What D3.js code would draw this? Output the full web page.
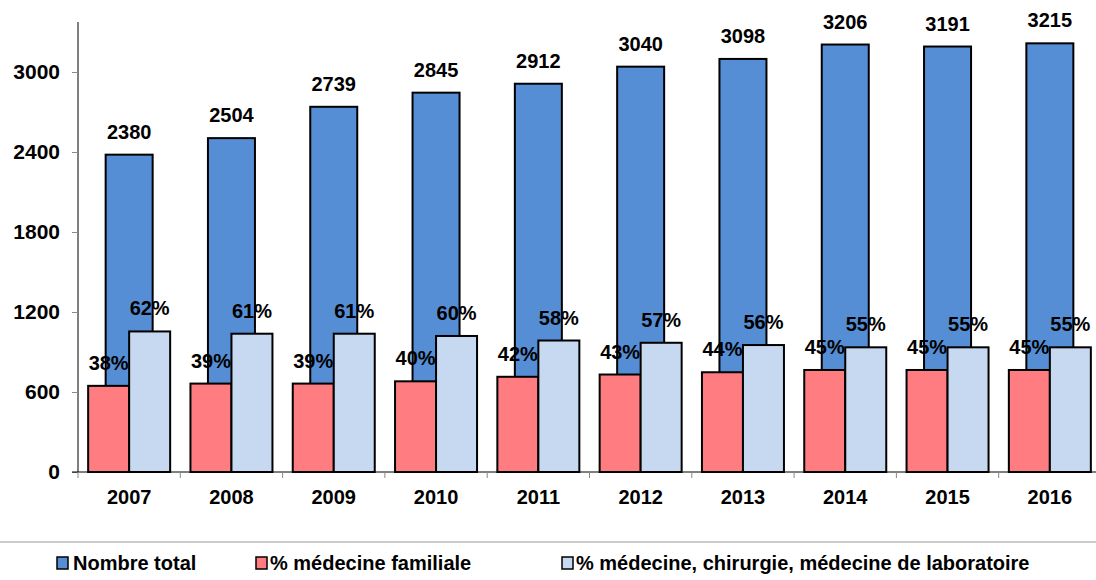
<!DOCTYPE html>
<html><head><meta charset="utf-8">
<script src="https://cdn.jsdelivr.net/npm/d3@7"></script>
<style>
html,body{margin:0;padding:0;background:#fff;}
text{font-family:"Liberation Sans",Arial,sans-serif;font-weight:bold;fill:#000;}
</style></head>
<body><svg id="c" width="1096" height="580"></svg>
<script>
const years = ["2007","2008","2009","2010","2011","2012","2013","2014","2015","2016"];
const totals = [2380,2504,2739,2845,2912,3040,3098,3206,3191,3215];
const pctFamily = [38,39,39,40,42,43,44,45,45,45];
const pctOther = [62,61,61,60,58,57,56,55,55,55];
const yTicks = [0,600,1200,1800,2400,3000];
const legendLabels = ["Nombre total","% médecine familiale","% médecine, chirurgie, médecine de laboratoire"];
const colors = ["#558ED5","#FF7C80","#C6D9F1"];

(function(){
const svg = d3.select("#c");
const mLeft = 78, mTop = 22, mBottom = 472, plotW = 1023;
const x = d3.scaleBand().domain(years).range([mLeft, mLeft + plotW]).paddingInner(0).paddingOuter(0);
const y = d3.scaleLinear().domain([0, 3375]).range([mBottom, mTop]);
const y2 = d3.scaleLinear().domain([0, 198.5]).range([mBottom, mTop]);
const bw = 47, sw = 41, fs = 20;
const FF = '"Liberation Sans",Arial,sans-serif';

svg.append("g").selectAll("rect").data(years).join("rect")
  .attr("x", d => x(d) + x.bandwidth()/2 - bw/2)
  .attr("y", (d,i) => y(totals[i]))
  .attr("width", bw)
  .attr("height", (d,i) => y(0) - y(totals[i]))
  .attr("fill", colors[0]).attr("stroke", "#000").attr("stroke-width", 2);

svg.append("g").selectAll("text").data(years).join("text")
  .attr("x", d => x(d) + x.bandwidth()/2)
  .attr("y", (d,i) => y(totals[i]) - 16)
  .attr("text-anchor", "middle").attr("font-size", fs)
  .text((d,i) => totals[i]);

const c = x.bandwidth()/2;
svg.append("g").selectAll("rect").data(years).join("rect")
  .attr("x", d => x(d) + c - sw)
  .attr("y", (d,i) => y2(pctFamily[i]))
  .attr("width", sw)
  .attr("height", (d,i) => y2(0) - y2(pctFamily[i]))
  .attr("fill", colors[1]).attr("stroke", "#000").attr("stroke-width", 2);
svg.append("g").selectAll("rect").data(years).join("rect")
  .attr("x", d => x(d) + c)
  .attr("y", (d,i) => y2(pctOther[i]))
  .attr("width", sw)
  .attr("height", (d,i) => y2(0) - y2(pctOther[i]))
  .attr("fill", colors[2]).attr("stroke", "#000").attr("stroke-width", 2);

svg.append("g").selectAll("text").data(years).join("text")
  .attr("x", d => x(d) + c - sw/2)
  .attr("y", (d,i) => y2(pctFamily[i]) - 16)
  .attr("text-anchor", "middle").attr("font-size", fs)
  .text((d,i) => pctFamily[i] + "%");
svg.append("g").selectAll("text").data(years).join("text")
  .attr("x", d => x(d) + c + sw/2)
  .attr("y", (d,i) => y2(pctOther[i]) - 16)
  .attr("text-anchor", "middle").attr("font-size", fs)
  .text((d,i) => pctOther[i] + "%");

const ya = svg.append("g").attr("transform", `translate(${mLeft},0)`)
  .call(d3.axisLeft(y).tickValues(yTicks).tickSize(6).tickPadding(12).tickFormat(d3.format("d")));
ya.select(".domain").attr("stroke", "#000").attr("d", `M0,${mTop}V${mBottom}`);
ya.selectAll(".tick line").attr("stroke", "#888");
ya.selectAll(".tick text").attr("font-size", 21).style("font-family", FF).style("font-weight","bold").attr("fill","#000");

const xa = svg.append("g").attr("transform", `translate(0,${mBottom})`)
  .call(d3.axisBottom(x).tickSize(0).tickPadding(18));
xa.select(".domain").attr("stroke", "#000").attr("d", `M${mLeft-6},0H${mLeft+plotW}`);
xa.selectAll(".tick text").attr("font-size", fs).style("font-family", FF).style("font-weight","bold").attr("fill","#000");
svg.append("g").selectAll("line").data(years.concat(["end"])).join("line")
  .attr("x1", (d,i) => mLeft + i*x.bandwidth()).attr("x2", (d,i) => mLeft + i*x.bandwidth())
  .attr("y1", mBottom).attr("y2", mBottom + 6).attr("stroke", "#888");

svg.append("line").attr("x1", 0).attr("x2", 1096).attr("y1", 542).attr("y2", 542)
  .attr("stroke", "#bbb").attr("stroke-width", 1.5);
const lx = [57, 256, 562];
const lg = svg.append("g").selectAll("g").data(legendLabels).join("g")
  .attr("transform", (d,i) => `translate(${lx[i]},557)`);
lg.append("rect").attr("width", 11).attr("height", 12).attr("fill", (d,i) => colors[i])
  .attr("stroke", "#000").attr("stroke-width", 1.5);
lg.append("text").attr("x", (d,i) => i === 0 ? 16 : 14).attr("y", 13).attr("font-size", fs).text(d => d);
})();
</script></body></html>
